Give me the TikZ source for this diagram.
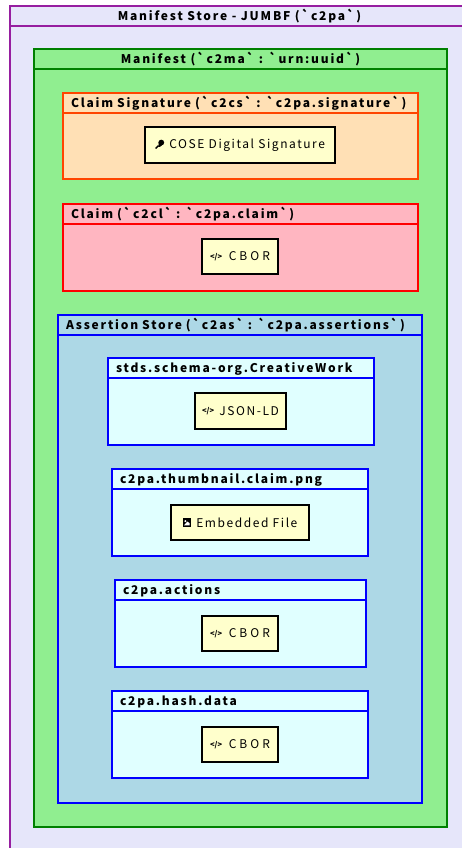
\documentclass[tikz,border=0pt]{standalone}
\usepackage{fontspec}
\newfontfamily\titlefont[LetterSpace=15]{Noto Sans CJK JP}
\newfontfamily\boxfont[LetterSpace=13]{Noto Sans CJK JP}
\newfontfamily\cborfont[LetterSpace=25]{Noto Sans CJK JP}
\newfontfamily\iconfont{Noto Sans CJK JP}
\definecolor{storefill}{RGB}{230,230,250}
\definecolor{storeline}{RGB}{150,30,160}
\definecolor{manifestfill}{RGB}{144,238,144}
\definecolor{manifestline}{RGB}{0,128,0}
\definecolor{signfill}{RGB}{255,224,181}
\definecolor{signline}{RGB}{255,69,0}
\definecolor{claimfill}{RGB}{255,182,193}
\definecolor{assertfill}{RGB}{173,216,230}
\definecolor{itemfill}{RGB}{224,255,255}
\definecolor{datafill}{RGB}{255,255,204}
\tikzset{
    boxbody/.style={draw, line width=1.5pt, anchor=north west, inner sep=0pt, outer sep=0pt},
    titlemid/.style={draw, line width=1.5pt, anchor=north west, inner sep=0pt, outer sep=0pt, minimum height=20pt,
        text height=9.5pt, text depth=0pt, font=\titlefont\bfseries\fontsize{12}{14}\selectfont},
    titleleft/.style={titlemid, align=left, inner xsep=8pt},
    databox/.style={draw=black, fill=datafill, line width=1.5pt, inner sep=0pt, outer sep=0pt,
        minimum height=35pt, font=\boxfont\fontsize{12}{14}\selectfont},
    cborbox/.style={databox, minimum width=76pt, font=\cborfont\fontsize{12}{14}\selectfont},
}
\newcommand{\keyicon}{\tikz[baseline=-0.5pt,x=1pt,y=1pt]{
    \fill (-0.2,-0.2) -- (2.6,2.6) -- (3.6,1.6) -- (1,-1.2) -- cycle;
    \fill (6,5.2) circle (2.9);
    \fill (3,1) -- (4.8,0.9) -- (6.6,2.6) -- (3.5,4.4) -- cycle;}\hspace{1pt}}
\newcommand{\codeicon}{{\iconfont\bfseries\fontsize{7.5}{8}\selectfont\raisebox{1.5pt}{</>}}\hspace{1pt}}
\newcommand{\imgicon}{\tikz[baseline=-0.5pt,x=1pt,y=1pt]{
    \fill (0,0) rectangle (8.5,8.5);
    \fill[white] (1.4,1.4) -- (7.1,1.4) -- (7.1,3.4) -- (4.8,5.2) -- cycle;
    \fill[white] (2.8,5.6) circle (1.1);}\hspace{1pt}}
\begin{document}
\begin{tikzpicture}[x=1pt,y=-1pt]
    \useasboundingbox (0,0) rectangle (462,848);
    % outer store, runs off the page on the right and at the bottom
    \begin{scope}
        \clip (0,0) rectangle (462,848);
        \node[boxbody, draw=storeline, fill=storefill, minimum width=459pt, minimum height=860pt] (store) at (10,6) {};
        \node[titlemid, draw=storeline, minimum width=459pt] (storetitle) at (10,6) {Manifest Store - JUMBF (`c2pa`)};
    \end{scope}
    % manifest
    \node[boxbody, draw=manifestline, fill=manifestfill, minimum width=413pt, minimum height=778pt] (manifest) at (34,49) {};
    \node[titlemid, draw=manifestline, minimum width=413pt] (manifesttitle) at (34,49) {Manifest (`c2ma` : `urn:uuid`)};
    % claim signature
    \node[boxbody, draw=signline, fill=signfill, minimum width=355pt, minimum height=86pt] (sign) at (63,93) {};
    \node[titleleft, draw=signline, minimum width=355pt, text width=339pt] (signtitle) at (63,93) {Claim Signature (`c2cs` : `c2pa.signature`)};
    \node[databox, minimum width=190pt, minimum height=36pt] (signdata) at (240,145) {\keyicon\ COSE Digital Signature};
    % claim
    \node[boxbody, draw=red, fill=claimfill, minimum width=355pt, minimum height=87pt] (claim) at (63,204) {};
    \node[titleleft, draw=red, minimum width=355pt, text width=339pt] (claimtitle) at (63,204) {Claim (`c2cl` : `c2pa.claim`)};
    \node[cborbox] (claimdata) at (240,256.5) {\codeicon\ CBOR};
    % assertion store
    \node[boxbody, draw=blue, fill=assertfill, minimum width=364pt, minimum height=488pt] (assert) at (58,315) {};
    \node[titleleft, draw=blue, minimum width=364pt, text width=348pt] (asserttitle) at (58,315) {Assertion Store (`c2as` : `c2pa.assertions`)};
    % assertions
    \foreach \nm/\x/\y/\w/\txt in {
        work/108/358/266/stds.schema-org.CreativeWork,
        thumb/112/469/256/c2pa.thumbnail.claim.png,
        actions/115/580/251/c2pa.actions,
        hash/112/691/256/c2pa.hash.data} {
        \node[boxbody, draw=blue, fill=itemfill, minimum width=\w pt, minimum height=87pt] (\nm) at (\x,\y) {};
        \node[titleleft, draw=blue, minimum width=\w pt, text width=\w pt-16pt] (\nm title) at (\x,\y) {\txt};
    }
    \node[databox, minimum width=91pt, minimum height=36pt] (workdata) at (240.5,411) {\codeicon\ JSON-LD};
    \node[databox, minimum width=138pt] (thumbdata) at (240,522.5) {\imgicon\ Embedded File};
    \node[cborbox] (actionsdata) at (240,633.5) {\codeicon\ CBOR};
    \node[cborbox] (hashdata) at (240,744.5) {\codeicon\ CBOR};
\end{tikzpicture}
\end{document}
